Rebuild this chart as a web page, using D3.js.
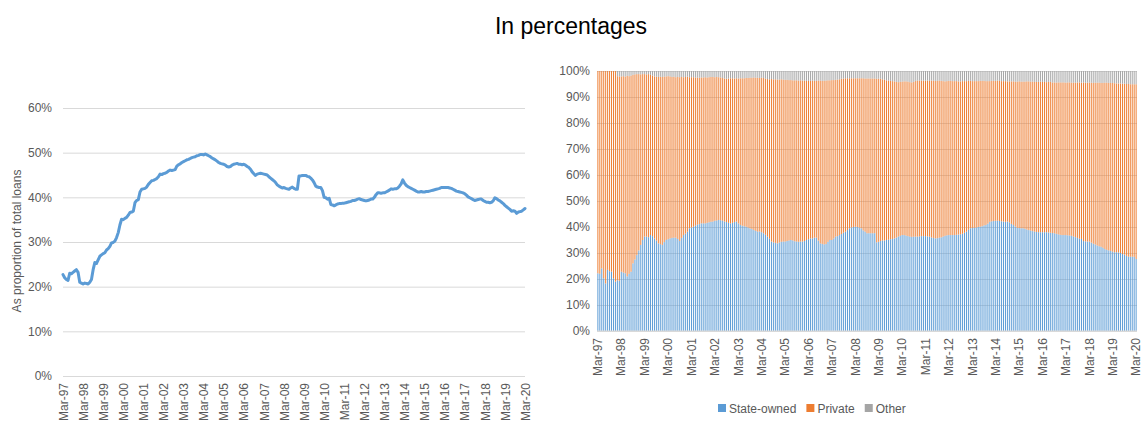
<!DOCTYPE html>
<html>
<head>
<meta charset="utf-8">
<script src="https://cdn.jsdelivr.net/npm/d3@7"></script>
<style>
  body { margin: 0; background: #fff; }
  text { font-family: "Liberation Sans", Arial, sans-serif; }
</style>
</head>
<body>
<div id="chart"></div>
<script>
// monthly, Mar-97 .. Mar-20 (one line per year, Mar..Feb)
var tickLabels = ["Mar-97","Mar-98","Mar-99","Mar-00","Mar-01","Mar-02","Mar-03","Mar-04",
  "Mar-05","Mar-06","Mar-07","Mar-08","Mar-09","Mar-10","Mar-11","Mar-12","Mar-13","Mar-14",
  "Mar-15","Mar-16","Mar-17","Mar-18","Mar-19","Mar-20"];

// left panel: state-owned share, as proportion of total loans (%)
var stateShareLine = [
  22.7, 22.0, 21.6, 21.4, 23.0, 22.9, 23.2, 23.5, 23.8, 23.2, 21.0, 20.8,
  20.6, 20.8, 20.7, 20.6, 21.0, 21.6, 23.8, 25.4, 25.2, 26.0, 26.8, 27.1,
  27.4, 27.6, 28.2, 28.5, 29.0, 29.8, 29.9, 30.2, 31.0, 32.1, 33.8, 35.1,
  35.0, 35.3, 35.5, 36.0, 36.6, 36.7, 36.9, 38.8, 39.3, 39.5, 41.2, 41.8,
  41.9, 42.0, 42.3, 42.9, 43.3, 43.7, 43.8, 44.0, 44.2, 44.6, 45.2, 45.1,
  45.3, 45.4, 45.6, 45.9, 46.1, 46.0, 46.1, 46.2, 47.0, 47.3, 47.5, 47.8,
  48.0, 48.2, 48.4, 48.5, 48.7, 48.9, 49.0, 49.1, 49.3, 49.4, 49.6, 49.6,
  49.5, 49.7, 49.5, 49.3, 49.1, 48.8, 48.6, 48.4, 48.1, 47.8, 47.6, 47.5,
  47.4, 47.2, 46.9, 46.8, 46.9, 47.2, 47.4, 47.5, 47.6, 47.4, 47.4, 47.3,
  47.4, 47.2, 46.9, 46.7, 46.3, 45.7, 45.3, 44.9, 45.2, 45.3, 45.4, 45.3,
  45.2, 45.1, 45.0, 44.6, 44.3, 44.0, 43.7, 43.3, 42.8, 42.5, 42.3, 42.1,
  42.2, 42.0, 41.9, 41.8, 42.1, 42.3, 42.0, 41.8, 41.8, 44.8, 44.8, 44.9,
  44.9, 44.9, 44.7, 44.6, 44.3, 43.9, 43.3, 42.5, 42.3, 42.2, 42.2, 41.5,
  40.0, 39.9, 39.6, 39.8, 38.4, 38.3, 38.1, 38.3, 38.5, 38.6, 38.6, 38.7,
  38.7, 38.8, 38.9, 39.0, 39.1, 39.3, 39.3, 39.4, 39.6, 39.7, 39.5, 39.4,
  39.3, 39.2, 39.3, 39.4, 39.6, 39.6, 40.0, 40.6, 41.0, 41.0, 40.9, 41.0,
  41.0, 41.2, 41.4, 41.6, 41.9, 41.8, 41.9, 41.9, 42.1, 42.5, 43.0, 43.9,
  43.2, 42.7, 42.4, 42.2, 42.0, 41.8, 41.6, 41.4, 41.2, 41.2, 41.3, 41.2,
  41.2, 41.3, 41.3, 41.4, 41.5, 41.6, 41.7, 41.8, 41.9, 42.0, 42.2, 42.2,
  42.2, 42.2, 42.2, 42.1, 42.0, 41.8, 41.6, 41.4, 41.3, 41.2, 41.1, 41.0,
  40.8, 40.5, 40.1, 39.9, 39.7, 39.5, 39.3, 39.4, 39.5, 39.6, 39.6, 39.3,
  39.1, 38.9, 38.9, 38.8, 38.9, 39.2, 39.9, 39.7, 39.4, 39.2, 38.9, 38.6,
  38.2, 37.9, 37.6, 37.3, 36.9, 37.0, 36.9, 36.4, 36.7, 36.8, 36.9, 37.2,
  37.5
];

// right panel: shares by owner (%)
var stateOwned = [
  22.2, 22.0, 24.1, 20.3, 18.3, 23.5, 23.0, 22.8, 20.3, 19.0, 19.5, 19.3,
  22.8, 22.5, 22.2, 21.0, 22.0, 22.8, 26.0, 27.5, 29.2, 31.0, 33.1, 35.0,
  36.3, 36.3, 36.1, 36.9, 36.5, 35.6, 34.8, 33.7, 33.4, 33.1, 34.2, 35.0,
  35.3, 35.6, 35.8, 35.9, 35.9, 35.4, 34.6, 35.8, 36.9, 37.5, 38.2, 39.5,
  39.8, 40.1, 40.5, 40.9, 41.1, 41.4, 41.4, 41.4, 41.6, 41.8, 42.0, 42.1,
  42.4, 42.5, 42.7, 42.6, 42.4, 42.1, 41.9, 41.6, 41.4, 41.6, 41.9, 42.1,
  41.4, 40.8, 40.5, 40.3, 40.1, 39.8, 39.5, 39.2, 38.8, 38.5, 38.2, 38.3,
  38.0, 37.6, 37.0, 36.3, 35.5, 34.4, 34.1, 33.9, 33.7, 34.0, 34.3, 34.4,
  34.4, 34.6, 34.8, 35.0, 34.8, 34.5, 34.4, 34.3, 34.4, 34.4, 34.6, 35.0,
  35.3, 35.6, 35.6, 35.9, 35.9, 34.8, 33.7, 33.5, 33.3, 33.5, 34.3, 35.0,
  35.0, 35.6, 36.3, 36.5, 36.9, 37.3, 37.8, 38.2, 38.8, 39.5, 39.8, 40.0,
  40.1, 40.0, 39.8, 39.5, 38.7, 38.2, 37.6, 37.6, 37.6, 37.6, 37.6, 34.1,
  34.3, 34.6, 34.8, 34.8, 35.0, 35.1, 35.3, 35.4, 35.6, 35.9, 36.3, 36.6,
  36.9, 36.9, 36.7, 36.5, 36.3, 36.2, 36.3, 36.3, 36.3, 36.4, 36.5, 36.5,
  36.5, 36.4, 36.3, 36.0, 35.8, 35.6, 35.7, 35.9, 36.0, 36.3, 36.6, 36.8,
  36.9, 36.9, 36.9, 36.9, 37.0, 37.1, 37.2, 37.4, 37.8, 38.2, 38.9, 39.5,
  39.6, 39.7, 39.8, 40.0, 40.1, 40.3, 40.6, 40.8, 41.3, 42.0, 42.2, 42.3,
  42.4, 42.4, 42.3, 42.2, 42.1, 42.0, 42.1, 41.8, 41.2, 40.8, 40.2, 39.7,
  39.6, 39.5, 39.5, 39.3, 39.0, 38.8, 38.6, 38.4, 38.2, 38.1, 38.0, 38.0,
  38.0, 38.0, 38.0, 37.9, 37.8, 37.7, 37.6, 37.4, 37.2, 37.0, 36.9, 36.9,
  36.9, 36.8, 36.7, 36.6, 36.3, 36.1, 35.8, 35.5, 35.4, 34.6, 34.5, 34.4,
  34.4, 34.0, 33.6, 33.3, 32.9, 32.6, 32.4, 32.0, 31.5, 31.2, 31.0, 30.8,
  30.5, 30.3, 30.3, 30.2, 30.0, 29.6, 29.4, 28.9, 28.6, 28.6, 28.6, 28.5,
  27.7
];

var other = [
  0, 0, 0, 0, 0, 0, 0, 0, 0, 0, 2.0, 2.1,
  2.1, 2.0, 2.2, 1.9, 2.0, 1.8, 1.5, 1.3, 1.2, 1.2, 1.3, 1.2,
  1.2, 1.3, 1.2, 1.5, 1.8, 2.1, 2.2, 2.3, 2.2, 2.3, 2.2, 2.1,
  2.0, 2.1, 2.3, 2.2, 2.4, 2.3, 2.4, 2.3, 2.4, 2.3, 2.2, 2.4,
  2.4, 2.4, 2.5, 2.5, 2.6, 2.5, 2.5, 2.4, 2.5, 2.4, 2.3, 2.3,
  2.4, 2.3, 2.4, 2.5, 2.7, 2.9, 3.0, 2.9, 2.8, 2.8, 2.9, 2.8,
  2.9, 2.8, 2.8, 2.8, 2.7, 2.7, 2.6, 2.6, 2.5, 2.6, 2.6, 2.7,
  2.6, 2.7, 3.0, 3.1, 3.2, 3.1, 3.2, 3.2, 3.3, 3.3, 3.2, 3.3,
  3.4, 3.4, 3.5, 3.5, 3.6, 3.6, 3.6, 3.7, 3.6, 3.7, 3.7, 3.8,
  3.8, 3.8, 3.7, 3.8, 3.8, 3.7, 3.7, 3.8, 3.8, 3.7, 3.6, 3.6,
  3.5, 3.5, 3.4, 3.3, 3.2, 3.0, 2.9, 2.8, 2.8, 2.8, 2.8, 2.8,
  2.8, 2.8, 2.8, 2.8, 2.8, 2.9, 2.9, 2.9, 2.9, 2.9, 2.9, 3.0,
  3.0, 3.0, 3.2, 3.4, 3.6, 3.7, 3.8, 3.9, 4.0, 4.2, 4.3, 4.2,
  4.1, 4.0, 4.0, 4.1, 4.3, 4.4, 4.2, 3.8, 3.7, 3.7, 3.7, 3.7,
  3.7, 3.7, 3.8, 3.7, 3.7, 3.8, 3.8, 3.7, 3.8, 3.9, 4.0, 3.9,
  3.8, 3.8, 3.9, 3.9, 3.9, 4.0, 4.0, 3.9, 3.9, 3.9, 3.8, 3.8,
  3.9, 3.9, 3.9, 3.9, 3.8, 3.8, 3.8, 3.9, 3.9, 3.9, 3.8, 3.8,
  3.8, 3.7, 3.8, 3.9, 3.9, 3.9, 4.0, 4.0, 4.0, 4.0, 4.1, 4.1,
  4.0, 4.1, 4.1, 4.1, 4.0, 4.0, 4.1, 4.1, 4.2, 4.2, 4.2, 4.1,
  4.2, 4.2, 4.3, 4.2, 4.2, 4.4, 4.4, 4.5, 4.4, 4.4, 4.4, 4.4,
  4.5, 4.4, 4.4, 4.5, 4.5, 4.5, 4.4, 4.4, 4.5, 4.4, 4.5, 4.5,
  4.5, 4.5, 4.6, 4.5, 4.5, 4.5, 4.6, 4.6, 4.5, 4.5, 4.6, 4.6,
  4.6, 4.7, 4.8, 4.8, 4.8, 4.9, 4.9, 5.0, 5.0, 5.1, 5.1, 5.1,
  5.1
];

var seriesNames = ["State-owned", "Private", "Other"];
var seriesColors = ["#5B9BD5", "#ED7D31", "#A5A5A5"];

var W = 1142, H = 423;
var textColor = "#595959", gridColor = "#d9d9d9";
var fmtPct = function (d) { return d + "%"; };

var svg = d3.select("#chart").append("svg")
    .attr("width", W)
    .attr("height", H);

svg.append("text")
    .attr("x", 571).attr("y", 34)
    .attr("text-anchor", "middle")
    .style("font-size", "23px")
    .style("fill", "#000")
    .text("In percentages");

var idx = d3.range(stateShareLine.length);

// ---------- left: line ----------
var xL = d3.scaleLinear().domain([0, idx.length - 1]).range([63, 525]);
var yL = d3.scaleLinear().domain([0, 60]).range([376, 108]);

var left = svg.append("g");

left.append("g")
    .attr("transform", "translate(63,0)")
    .call(d3.axisLeft(yL).tickValues(d3.range(0, 61, 10)).tickFormat(fmtPct).tickSize(-(525 - 63)).tickPadding(11))
    .call(function (g) {
        g.select(".domain").remove();
        g.selectAll(".tick line").attr("stroke", gridColor).attr("stroke-width", 1);
        g.selectAll(".tick text").attr("fill", textColor).style("font-size", "12px");
    });

left.append("g")
    .attr("transform", "translate(0,376)")
    .call(d3.axisBottom(xL).tickValues(d3.range(0, idx.length, 12)).tickFormat(function (d, i) { return tickLabels[i]; }).tickSize(0))
    .call(function (g) {
        g.select(".domain").remove();
        g.selectAll(".tick text")
            .attr("fill", textColor).style("font-size", "12px")
            .attr("text-anchor", "end")
            .attr("transform", "rotate(-90)")
            .attr("x", -7).attr("y", 0).attr("dy", "0.35em");
    });

left.append("text")
    .attr("transform", "translate(21,241) rotate(-90)")
    .attr("text-anchor", "middle")
    .style("font-size", "12px")
    .attr("fill", textColor)
    .text("As proportion of total loans");

var line = d3.line()
    .x(function (d, i) { return xL(i); })
    .y(function (d) { return yL(d); });

left.append("path")
    .datum(stateShareLine)
    .attr("fill", "none")
    .attr("stroke", seriesColors[0])
    .attr("stroke-width", 3)
    .attr("stroke-linejoin", "round")
    .attr("stroke-linecap", "round")
    .attr("d", line);

// ---------- right: 100% stacked columns ----------
// private share is the remainder of the 100% column
var rows = idx.map(function (i) {
    return { i: i, state: stateOwned[i], other: other[i], priv: 100 - stateOwned[i] - other[i] };
});
var stack = d3.stack().keys(["state", "priv", "other"]);
var layers = stack(rows);

var xR = d3.scaleBand().domain(idx).range([597, 1137]).paddingInner(0.5).paddingOuter(0.2);
var yR = d3.scaleLinear().domain([0, 100]).range([331, 71]);

var right = svg.append("g");

right.append("g")
    .attr("transform", "translate(597,0)")
    .call(d3.axisLeft(yR).tickValues(d3.range(0, 101, 10)).tickFormat(fmtPct).tickSize(-(1137 - 597)).tickPadding(7))
    .call(function (g) {
        g.select(".domain").remove();
        g.selectAll(".tick line").attr("stroke", gridColor).attr("stroke-width", 1);
        g.selectAll(".tick text").attr("fill", textColor).style("font-size", "12px");
    });

right.selectAll("g.layer")
    .data(layers)
    .enter().append("g")
    .attr("class", "layer")
    .attr("fill", function (d, k) { return seriesColors[k]; })
    .selectAll("rect")
    .data(function (d) { return d; })
    .enter().append("rect")
    .attr("x", function (d) { return xR(d.data.i); })
    .attr("width", xR.bandwidth())
    .attr("y", function (d) { return yR(d[1]); })
    .attr("height", function (d) { return yR(d[0]) - yR(d[1]); });

right.append("line")
    .attr("x1", 597).attr("x2", 1137)
    .attr("y1", yR(0)).attr("y2", yR(0))
    .attr("stroke", gridColor);

right.append("g")
    .attr("transform", "translate(0,331)")
    .call(d3.axisBottom(xR).tickValues(d3.range(0, idx.length, 12)).tickFormat(function (d, i) { return tickLabels[i]; }).tickSize(0))
    .call(function (g) {
        g.select(".domain").remove();
        g.selectAll(".tick text")
            .attr("fill", textColor).style("font-size", "12px")
            .attr("text-anchor", "end")
            .attr("transform", "rotate(-90)")
            .attr("x", -7).attr("y", 0).attr("dy", "0.35em");
    });

// legend
var legend = right.append("g").attr("transform", "translate(718,413)");
var lx = 0;
seriesNames.forEach(function (name, k) {
    var item = legend.append("g").attr("transform", "translate(" + lx + ",0)");
    item.append("rect").attr("x", 0).attr("y", -9).attr("width", 8).attr("height", 8).attr("fill", seriesColors[k]);
    var t = item.append("text").attr("x", 11).attr("y", 0)
        .style("font-size", "12px").attr("fill", textColor).text(name);
    lx += 11 + t.node().getComputedTextLength() + 10;
});
</script>
</body>
</html>
